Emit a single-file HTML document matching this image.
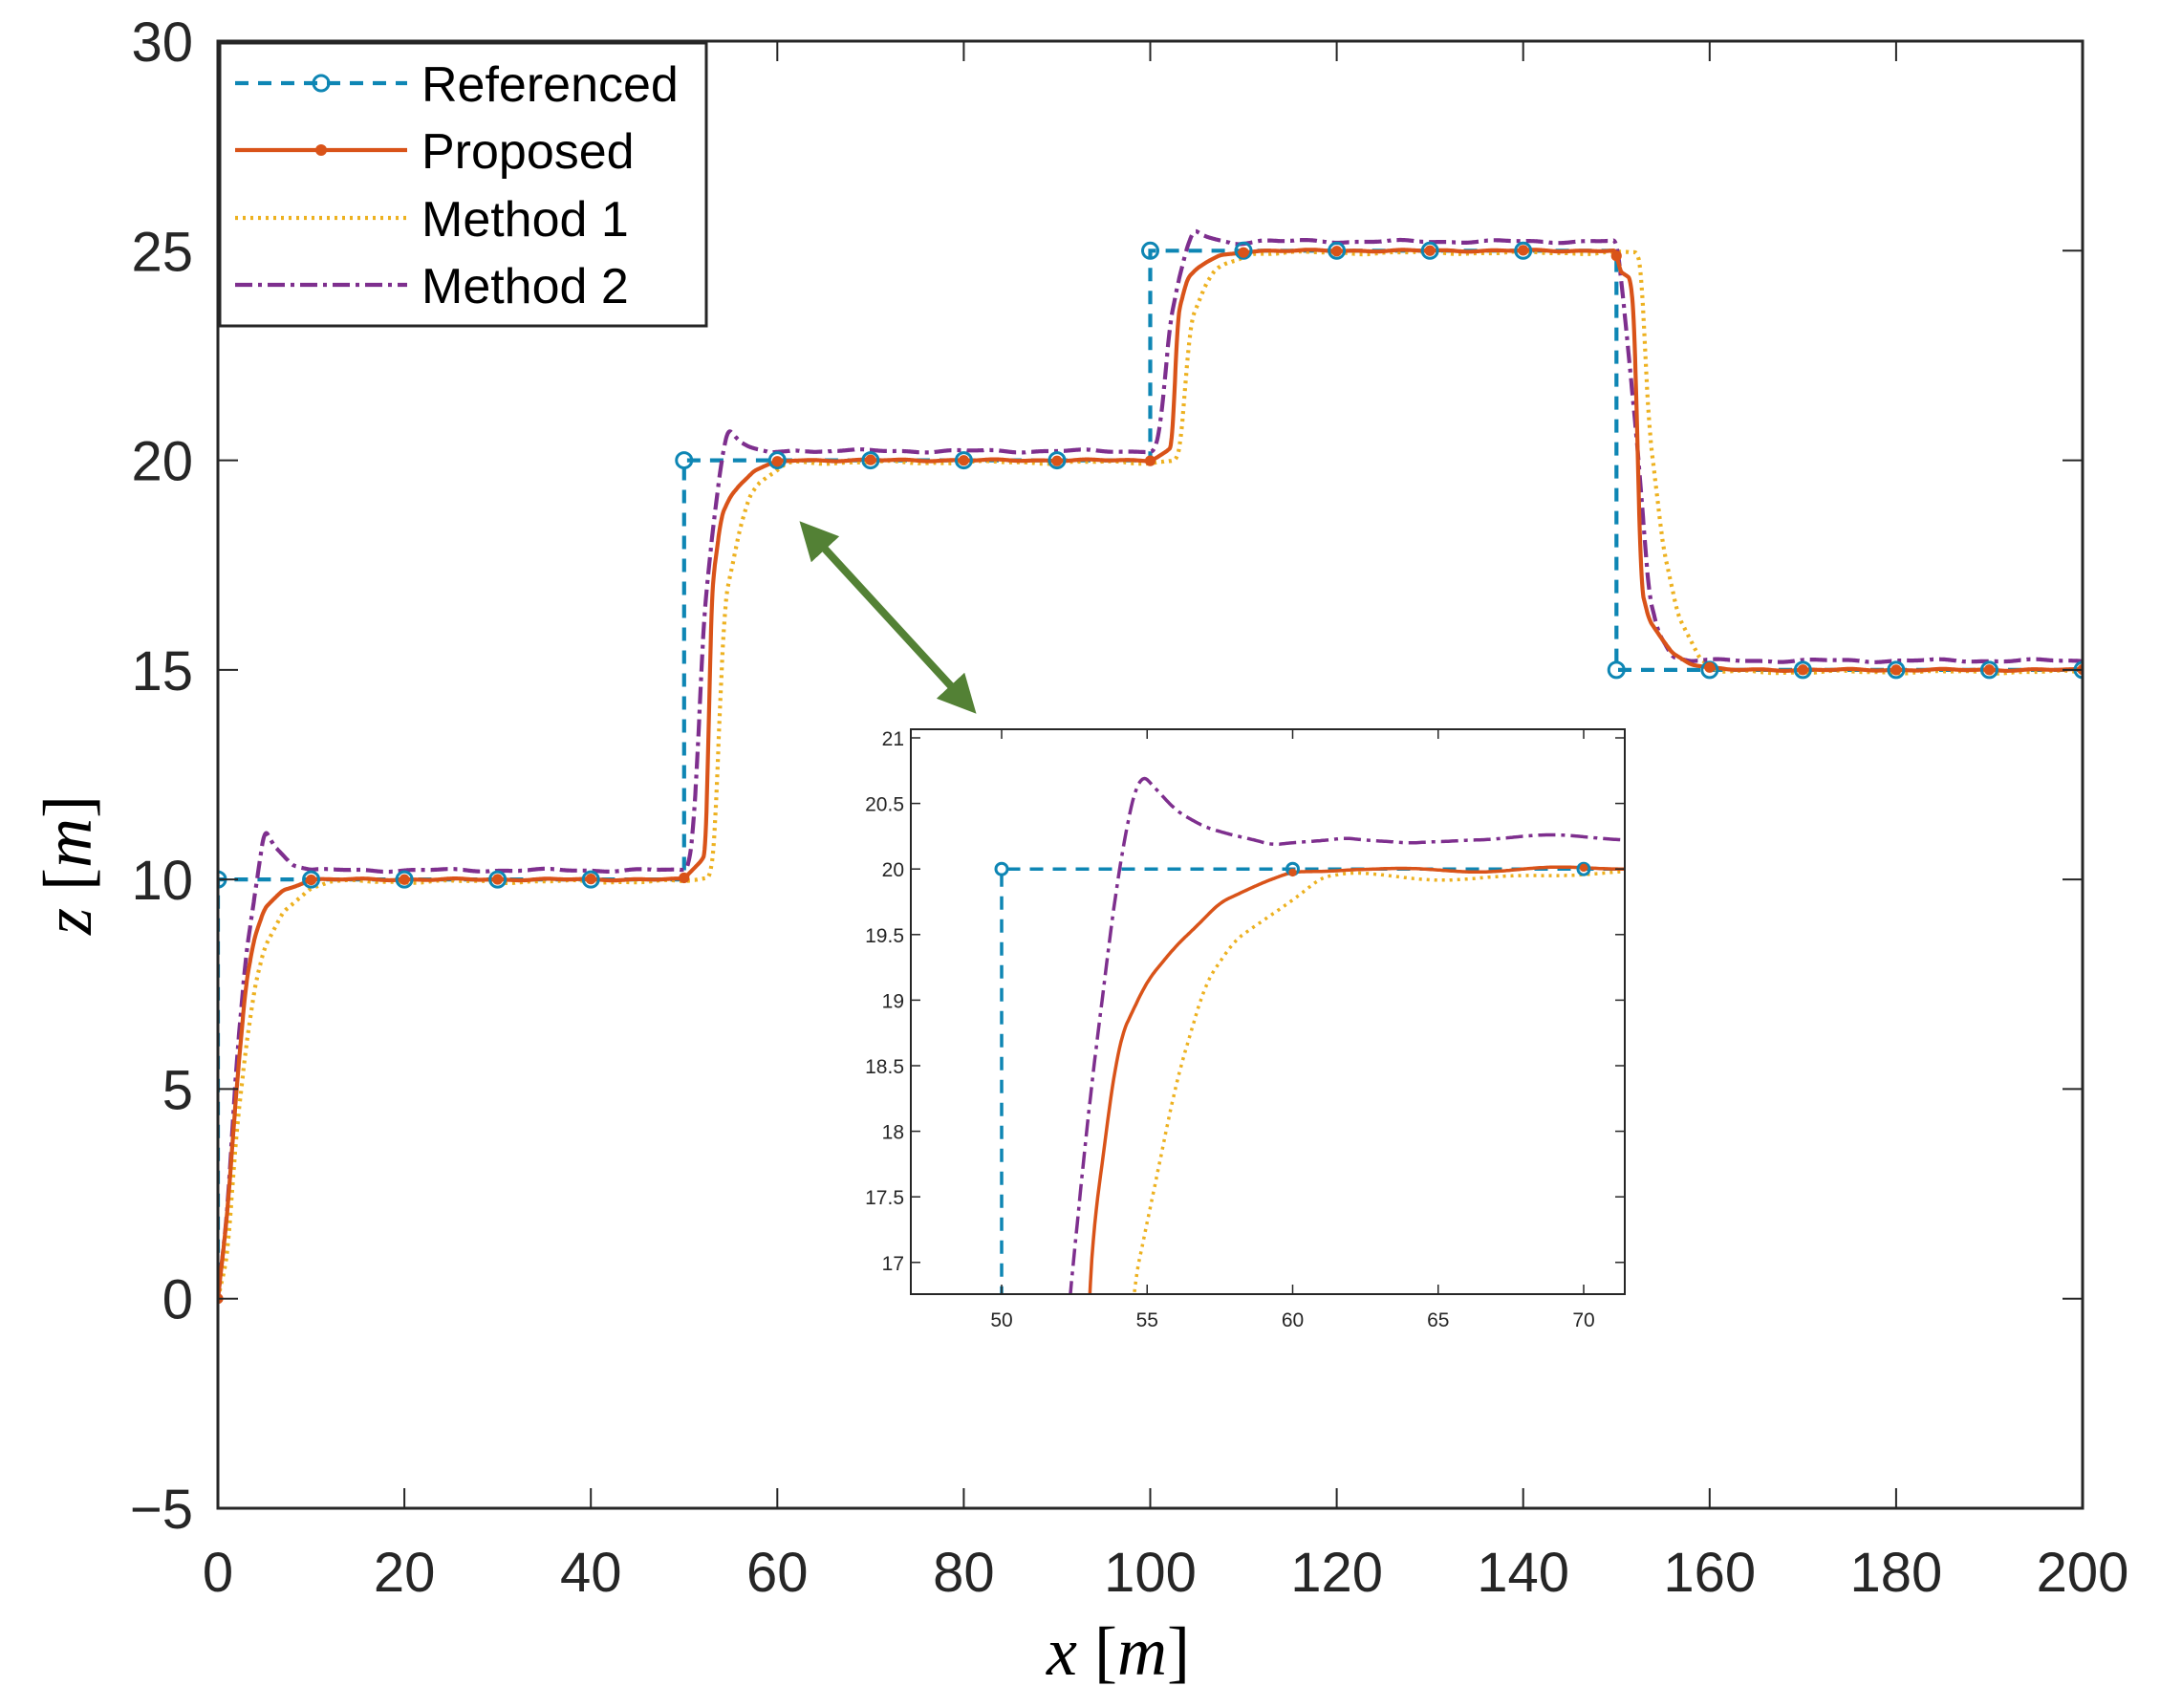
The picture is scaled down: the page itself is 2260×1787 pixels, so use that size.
<!DOCTYPE html>
<html><head><meta charset="utf-8"><style>
html,body{margin:0;padding:0;background:#fff;overflow:hidden;width:2260px;height:1787px;}
svg{display:block;}
text{font-family:"Liberation Sans",sans-serif;fill:#262626;}
</style></head><body>
<svg id="s" width="2260" height="1787" viewBox="0 0 2260 1787" xmlns="http://www.w3.org/2000/svg">
<defs>
<clipPath id="cm"><rect x="228" y="43" width="1951" height="1535"/></clipPath>
<clipPath id="ci"><rect x="953" y="763" width="747" height="591"/></clipPath>
<marker id="ah" viewBox="0 0 10 10" refX="5" refY="5" markerWidth="5" markerHeight="5" orient="auto-start-reverse"><path d="M0,0 L10,5 L0,10 z" fill="#538135"/></marker>
</defs>
<g id="main"></g>
<g id="inset"></g>
<g id="leg"></g>
<text x="1170" y="1752" text-anchor="middle" style="font-family:'Liberation Serif',serif;font-size:72px;fill:#000"><tspan font-style="italic">x</tspan> [<tspan font-style="italic">m</tspan>]</text>
<text transform="translate(95,905) rotate(-90)" text-anchor="middle" style="font-family:'Liberation Serif',serif;font-size:72px;fill:#000"><tspan font-style="italic">z</tspan> [<tspan font-style="italic">m</tspan>]</text>
</svg>
<script>
var NS="http://www.w3.org/2000/svg";
function el(p,tag,attrs,txt){var e=document.createElementNS(NS,tag);for(var k in attrs)e.setAttribute(k,attrs[k]);if(txt!=null)e.textContent=txt;p.appendChild(e);return e;}
var C={ref:"#0E86B4",pro:"#D95319",m1:"#EDB120",m2:"#7E2F8E"};
var steps=[{x0:0,p:0,q:10},{x0:50,p:10,q:20},{x0:100,p:20,q:25},{x0:150,p:25,q:15}];
var S={
 up:{pro:[[0,0],[2,0.05],[2.4,0.07],[2.6,0.3],[2.8,0.6],[3,0.7],[4,0.868],[5,0.915],[6,0.943],[7.5,0.975],[8,0.979],[10,0.996],[12,1]],
     m1:[[0,0],[2.8,0.01],[3.3,0.1],[3.8,0.4],[4.4,0.675],[6,0.845],[7,0.917],[8,0.948],[10,0.98],[11,0.997],[12,1]],
     m2:[[0,0],[0.5,0.01],[1,0.1],[1.5,0.3],[2.1,0.6],[3,0.8],[4,0.976],[4.7,1.053],[6,1.022],[7,1.009],[8,1.001],[9.3,0.993],[11.8,1.004],[14,0.999],[16,1.002],[20,1]]},
 z:{pro:[[0,0],[1,0.2],[2,0.5],[3,0.75],[3.9,0.86],[5,0.93],[7,0.975],[10,1]],
    m1:[[0,0],[1,0.1],[2,0.4],[3,0.6],[4,0.75],[5,0.84],[7,0.93],[10,0.985],[12,1]],
    m2:[[0,0],[1,0.2],[2,0.55],[3,0.8],[4.2,0.98],[5,1.1],[6,1.06],[8,1.015],[10,1.0],[12,1.0]]},
 dn:{pro:[[0,0],[0.3,0.05],[1.6,0.07],[2.0,0.2],[2.3,0.5],[2.6,0.8],[3.5,0.88],[5,0.93],[6,0.96],[8,0.985],[10,0.995],[12,1]],
     m1:[[0,0],[2.3,0],[2.7,0.05],[3.0,0.2],[3.5,0.42],[5,0.7],[6.6,0.86],[9,0.97],[11,1]],
     m2:[[0,0],[0.3,0.05],[1,0.2],[2.3,0.5],[3.5,0.84],[4.5,0.93],[6,0.99],[8,1]]}
};
var bias={pro:0,m1:-0.05,m2:0.22};
function interp(k,t){if(t<=k[0][0])return k[0][1];for(var i=1;i<k.length;i++){if(t<=k[i][0]){var a=k[i-1],b=k[i];var u=(t-a[0])/(b[0]-a[0]);return a[1]+(b[1]-a[1])*u;}}return k[k.length-1][1];}
function raw(c,x){var i=0;for(var j=0;j<steps.length;j++)if(x>=steps[j].x0)i=j;var st=steps[i];var t=x-st.x0;
 var sh=i==0?S.z:(i==3?S.dn:S.up);var e=interp(sh[c],t);var b=bias[c];if(i==0)b*=Math.min(1,e);
 var w=(c=="pro"?0.012:0.025)*Math.sin(x*0.55+(c=="m2"?1:0))+0.012*Math.sin(x*1.3+(c=="m1"?2:0));
 if(i==0)w*=Math.min(1,e);return st.p+(st.q-st.p)*e+b+w;}
function val(c,x){if(x<0.35)return raw(c,x);var s=0,n=0;for(var d=-0.3;d<=0.3001;d+=0.05){s+=raw(c,x+d);n++;}return s/n;}
function refv(x){var i=0;for(var j=0;j<steps.length;j++)if(x>=steps[j].x0)i=j;return steps[i].q;}
var styles={m1:{stroke:C.m1,"stroke-dasharray":"3 5"},m2:{stroke:C.m2,"stroke-dasharray":"18 6 4 6"},pro:{stroke:C.pro},ref:{stroke:C.ref,"stroke-dasharray":"14 10"}};
function draw(g,X,Y,x0,x1,clip,sw,mk){
 var gg=el(g,"g",{"clip-path":"url(#"+clip+")",fill:"none"});
 var rp=[[0,0],[0,10],[50,10],[50,20],[100,20],[100,25],[150,25],[150,15],[200,15]];
 var d="";rp.forEach(function(p,i){d+=(i?"L":"M")+X(p[0]).toFixed(1)+","+Y(p[1]).toFixed(1);});
 var a=Object.assign({},styles.ref,{d:d,"stroke-width":sw});el(gg,"path",a);
 ["m1","m2","pro"].forEach(function(c){var d="";var n=0;for(var x=x0;x<=x1+1e-9;x+=0.05){d+=(n++?"L":"M")+X(x).toFixed(1)+","+Y(val(c,x)).toFixed(1);}
  var a=Object.assign({},styles[c],{d:d,"stroke-width":sw,"stroke-linejoin":"round"});el(gg,"path",a);});
 for(var x=0;x<=200;x+=10){
  el(gg,"circle",{cx:X(x),cy:Y(refv(x)),r:mk,stroke:C.ref,"stroke-width":3,fill:"none"});
  var yy=x==0?0:val("pro",x);el(gg,"circle",{cx:X(x),cy:Y(yy),r:mk*0.7,fill:C.pro});
 }
}
var m=document.getElementById("main");
var X=function(x){return 228+x*9.755;},Y=function(z){return 43+(30-z)*43.857;};
draw(m,X,Y,0,200,"cm",4.2,8);
el(m,"rect",{x:228,y:43,width:1951,height:1535,fill:"none",stroke:"#262626","stroke-width":3});
for(var v=0;v<=200;v+=20){var px=X(v);el(m,"line",{x1:px,y1:1578,x2:px,y2:1557,stroke:"#262626","stroke-width":2});el(m,"line",{x1:px,y1:43,x2:px,y2:64,stroke:"#262626","stroke-width":2});
 el(m,"text",{x:px,y:1665,"text-anchor":"middle","font-size":"58"},String(v));}
for(var v=-5;v<=30;v+=5){var py=Y(v);el(m,"line",{x1:228,y1:py,x2:249,y2:py,stroke:"#262626","stroke-width":2});el(m,"line",{x1:2179,y1:py,x2:2158,y2:py,stroke:"#262626","stroke-width":2});
 el(m,"text",{x:202,y:py+21,"text-anchor":"end","font-size":"58"},v<0?"\u22125":String(v));}
el(m,"line",{x1:850,y1:560,x2:1008,y2:732,stroke:"#538135","stroke-width":8,"marker-start":"url(#ah)","marker-end":"url(#ah)"});
var ig=document.getElementById("inset");
el(ig,"rect",{x:953,y:763,width:747,height:591,fill:"#fff"});
var XI=function(x){return 1048+(x-50)*30.45;},YI=function(z){return 772+(21-z)*137.2;};
draw(ig,XI,YI,46,72,"ci",3.5,6);
el(ig,"rect",{x:953,y:763,width:747,height:591,fill:"none",stroke:"#262626","stroke-width":2});
for(var v=50;v<=70;v+=5){var px=XI(v);el(ig,"line",{x1:px,y1:1354,x2:px,y2:1344,stroke:"#262626","stroke-width":1.5});el(ig,"line",{x1:px,y1:763,x2:px,y2:773,stroke:"#262626","stroke-width":1.5});
 el(ig,"text",{x:px,y:1388,"text-anchor":"middle","font-size":"21"},String(v));}
for(var v=17;v<=21;v+=0.5){var py=YI(v);el(ig,"line",{x1:953,y1:py,x2:963,y2:py,stroke:"#262626","stroke-width":1.5});el(ig,"line",{x1:1700,y1:py,x2:1690,y2:py,stroke:"#262626","stroke-width":1.5});
 el(ig,"text",{x:946,y:py+8,"text-anchor":"end","font-size":"21"},String(v));}
var lg=document.getElementById("leg");
el(lg,"rect",{x:230,y:45,width:509,height:296,fill:"#fff",stroke:"#262626","stroke-width":3});
var ly=[87,157,228,298],names=["Referenced","Proposed","Method 1","Method 2"],keys=["ref","pro","m1","m2"];
keys.forEach(function(k,i){var a=Object.assign({},styles[k],{x1:246,y1:ly[i],x2:426,y2:ly[i],"stroke-width":4.2});el(lg,"line",a);
 if(k=="ref")el(lg,"circle",{cx:336,cy:ly[i],r:8,stroke:C.ref,"stroke-width":3,fill:"none"});
 if(k=="pro")el(lg,"circle",{cx:336,cy:ly[i],r:6,fill:C.pro});
 el(lg,"text",{x:441,y:ly[i]+19,"font-size":"52",style:"fill:#000"},names[i]);});
</script>
</body></html>
